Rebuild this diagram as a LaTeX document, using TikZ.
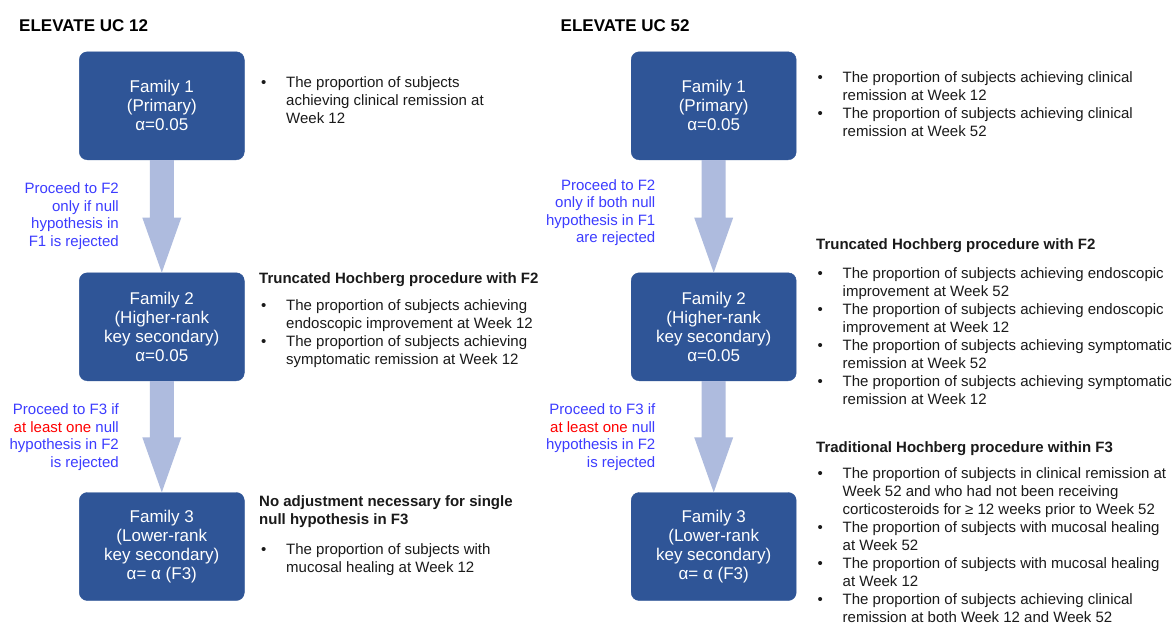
\documentclass[tikz,border=0pt]{standalone}
\usepackage{fontspec}
\setmainfont{Liberation Sans}
\usetikzlibrary{calc}
\definecolor{boxblue}{HTML}{2F5597}
\definecolor{arrowfill}{HTML}{AEBBDE}
\definecolor{lblblue}{HTML}{3C3CFF}
\definecolor{txtcol}{HTML}{1A1A1A}
\definecolor{redtxt}{HTML}{FF0000}
\newcommand{\bl}{\makebox[25pt][l]{\textbullet}}
\newcommand{\blist}[1]{\begin{tabular}[t]{@{}l@{}l@{}}#1\end{tabular}}
\newcommand{\rlist}[1]{\begin{tabular}[t]{@{}r@{}}#1\end{tabular}}
\newcommand{\flowarrow}[2]{%
  \fill[arrowfill] ($(#1.south)+(-12,0)$) -- ($(#2.north)+(-12,55)$) -- ($(#2.north)+(-19.5,55)$)
    -- (#2.north) -- ($(#2.north)+(19.5,55)$) -- ($(#2.north)+(12,55)$) -- ($(#1.south)+(12,0)$) -- cycle;}
\begin{document}
\begin{tikzpicture}[x=1pt,y=1pt,
  family/.style={rectangle, rounded corners=8pt, fill=boxblue, draw=boxblue, text=white,
    align=center, minimum width=165pt, minimum height=108pt, inner sep=0pt,
    font=\fontsize{17}{19}\selectfont},
  txt/.style={inner sep=0pt, anchor=base west, text=txtcol, font=\fontsize{15}{18}\selectfont},
  head/.style={txt, font=\fontsize{15}{18}\selectfont\bfseries},
  title/.style={inner sep=0pt, anchor=base west, text=black, font=\fontsize{17}{20}\selectfont\bfseries},
  lbl/.style={inner sep=0pt, anchor=base east, text=lblblue, font=\fontsize{15}{17.6}\selectfont}]
\useasboundingbox (0,0) rectangle (1174,-624);
\fill[white] (0,0) rectangle (1174,-624);

% titles
\node[title] (t1) at (19,-31.5) {ELEVATE UC 12};
\node[title] (t2) at (560.5,-31.5) {ELEVATE UC 52};

% left boxes
\node[family] (a1) at (161.8,-105.8) {Family 1\\(Primary)\\α=0.05};
\node[family] (a2) at (161.8,-326.8) {Family 2\\(Higher-rank\\key secondary)\\α=0.05};
\node[family] (a3) at (161.8,-546.5) {Family 3\\(Lower-rank\\key secondary)\\α= α (F3)};
\flowarrow{a1}{a2}
\flowarrow{a2}{a3}

% right boxes
\node[family] (b1) at (713.7,-105.8) {Family 1\\(Primary)\\α=0.05};
\node[family] (b2) at (713.7,-326.8) {Family 2\\(Higher-rank\\key secondary)\\α=0.05};
\node[family] (b3) at (713.7,-546.5) {Family 3\\(Lower-rank\\key secondary)\\α= α (F3)};
\flowarrow{b1}{b2}
\flowarrow{b2}{b3}

% left labels
\node[lbl] (la1) at (119,-193.5) {\rlist{Proceed to F2\\only if null\\hypothesis in\\F1 is rejected}};
\node[lbl] (la2) at (119,-414.5) {\rlist{Proceed to F3 if\\\textcolor{redtxt}{at least one} null\\hypothesis in F2\\is rejected}};

% right labels
\node[lbl] (lb1) at (655.5,-190) {\rlist{Proceed to F2\\only if both null\\hypothesis in F1\\are rejected}};
\node[lbl] (lb2) at (655.5,-414.5) {\rlist{Proceed to F3 if\\\textcolor{redtxt}{at least one} null\\hypothesis in F2\\is rejected}};

% left texts
\node[txt] (l1) at (261,-87) {\blist{\bl&The proportion of subjects\\&achieving clinical remission at\\&Week 12}};
\node[head] (lh2) at (259,-283) {Truncated Hochberg procedure with F2};
\node[txt] (l2) at (261,-310.5) {\blist{\bl&The proportion of subjects achieving\\&endoscopic improvement at Week 12\\\bl&The proportion of subjects achieving\\&symptomatic remission at Week 12}};
\node[head] (lh3) at (259,-506) {No adjustment necessary for single};
\node[head] (lh3b) at (259,-524) {null hypothesis in F3};
\node[txt] (l3) at (261,-554.5) {\blist{\bl&The proportion of subjects with\\&mucosal healing at Week 12}};

% right texts
\node[txt] (r1) at (817.5,-82) {\blist{\bl&The proportion of subjects achieving clinical\\&remission at Week 12\\\bl&The proportion of subjects achieving clinical\\&remission at Week 52}};
\node[head] (rh2) at (816,-249) {Truncated Hochberg procedure with F2};
\node[txt] (r2) at (817.5,-278) {\blist{\bl&The proportion of subjects achieving endoscopic\\&improvement at Week 52\\\bl&The proportion of subjects achieving endoscopic\\&improvement at Week 12\\\bl&The proportion of subjects achieving symptomatic\\&remission at Week 52\\\bl&The proportion of subjects achieving symptomatic\\&remission at Week 12}};
\node[head] (rh3) at (816,-452) {Traditional Hochberg procedure within F3};
\node[txt] (r3) at (817.5,-478) {\blist{\bl&The proportion of subjects in clinical remission at\\&Week 52 and who had not been receiving\\&corticosteroids for ≥ 12 weeks prior to Week 52\\\bl&The proportion of subjects with mucosal healing\\&at Week 52\\\bl&The proportion of subjects with mucosal healing\\&at Week 12\\\bl&The proportion of subjects achieving clinical\\&remission at both Week 12 and Week 52}};
\end{tikzpicture}
\end{document}
